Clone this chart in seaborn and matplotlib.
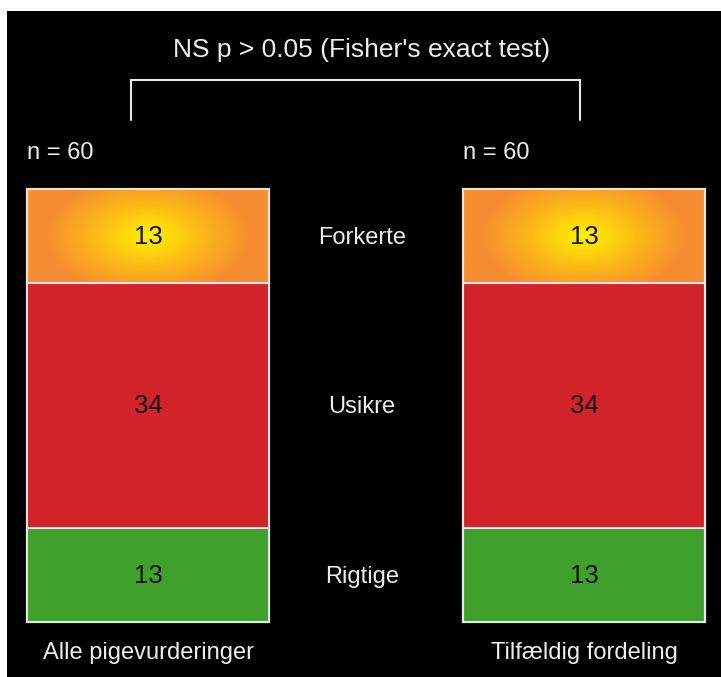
import numpy as np
import pandas as pd
import matplotlib.pyplot as plt
import seaborn as sns
from matplotlib.colors import LinearSegmentedColormap
from matplotlib.patches import Rectangle

# data (stacked bottom -> top)
groups = ["Alle pigevurderinger", "Tilfældig fordeling"]
categories = ["Rigtige", "Usikre", "Forkerte"]
rigtige = [13, 13]
usikre = [34, 34]
forkerte = [13, 13]
title = "NS p > 0.05 (Fisher's exact test)"

colors = {"Rigtige": "#40A02C", "Usikre": "#D2232A", "Forkerte": "#F68D31"}
edge = "#E6E6E6"
txt = "#EDEDED"

df = pd.DataFrame({"group": groups, "Rigtige": rigtige, "Usikre": usikre, "Forkerte": forkerte})
cum = df[categories].cumsum(axis=1)
totals = df[categories].sum(axis=1).values

sns.set_theme(style="dark")
plt.rcParams["font.family"] = ["Liberation Sans", "DejaVu Sans"]

fig = plt.figure(figsize=(7.21, 6.77), dpi=100, facecolor="white")
ax = fig.add_axes([7 / 721, 0, 714 / 721, 666 / 677])
ax.set_facecolor("black")

# seaborn stacked bars: draw cumulative totals, tallest first
bar_w = 0.553
for cat in reversed(categories):
    sns.barplot(x=df["group"], y=cum[cat], color=colors[cat], saturation=1,
                width=bar_w, edgecolor=edge, linewidth=1.5, ax=ax)

# radial glow on the top segment
yy, xx = np.mgrid[-1:1:200j, -1:1:300j]
r = np.clip(np.sqrt((xx / 0.85) ** 2 + (yy / 1.3) ** 2), 0, 1)
glow = LinearSegmentedColormap.from_list("glow", ["#FFF200", "#FDBA16", "#F68D31"])
top_bars = ax.containers[0]
for bar, lo, hi in zip(top_bars, cum["Usikre"], cum["Forkerte"]):
    x0, w = bar.get_x(), bar.get_width()
    ax.imshow(r, cmap=glow, extent=(x0, x0 + w, lo, hi), aspect="auto",
              origin="lower", interpolation="bilinear", zorder=3)
    ax.add_patch(Rectangle((x0, lo), w, hi - lo, fill=False, ec=edge, lw=1.5, zorder=4))

# segment values and category labels
for i, bar in enumerate(top_bars):
    xc = bar.get_x() + bar.get_width() / 2
    for cat in categories:
        mid = cum[cat][i] - df[cat][i] / 2
        ax.annotate(str(df[cat][i]), (xc, mid), xytext=(0, -8), textcoords="offset pixels",
                    ha="center", va="baseline", fontsize=18.5, color="#111111", zorder=5)
    ax.annotate(f"n = {totals[i]}", (bar.get_x(), totals[i]), xytext=(0, 30),
                textcoords="offset pixels", ha="left", va="baseline", fontsize=17, color=txt)
    ax.annotate(groups[i], (xc, 0), xytext=(0, -37), textcoords="offset pixels",
                ha="center", va="baseline", fontsize=17, color=txt)

xm = (0 + 1) / 2
for cat in categories:
    mid = cum[cat][0] - df[cat][0] / 2
    ax.annotate(cat, (xm - 0.01, mid), xytext=(0, -8), textcoords="offset pixels",
                ha="center", va="baseline", fontsize=17, color=txt)

# significance bracket
top = totals.max()
bx = [-0.04, -0.04, 0.99, 0.99]
by = [top + 9.6, top + 15.1, top + 15.1, top + 9.6]
ax.plot(bx, by, color=edge, lw=1.5, solid_joinstyle="miter")
ax.text(0.5 - 0.01, top + 18.3, title, ha="center", va="baseline", fontsize=19, color=txt)

ax.set_xlim(-0.3234, 1.3142)
ax.set_ylim(-7.62, 84.66)
ax.set_xticks([])
ax.set_yticks([])
ax.set_xlabel("")
ax.set_ylabel("")
for s in ax.spines.values():
    s.set_visible(False)

fig.savefig("out.png", dpi=100, facecolor="white")
